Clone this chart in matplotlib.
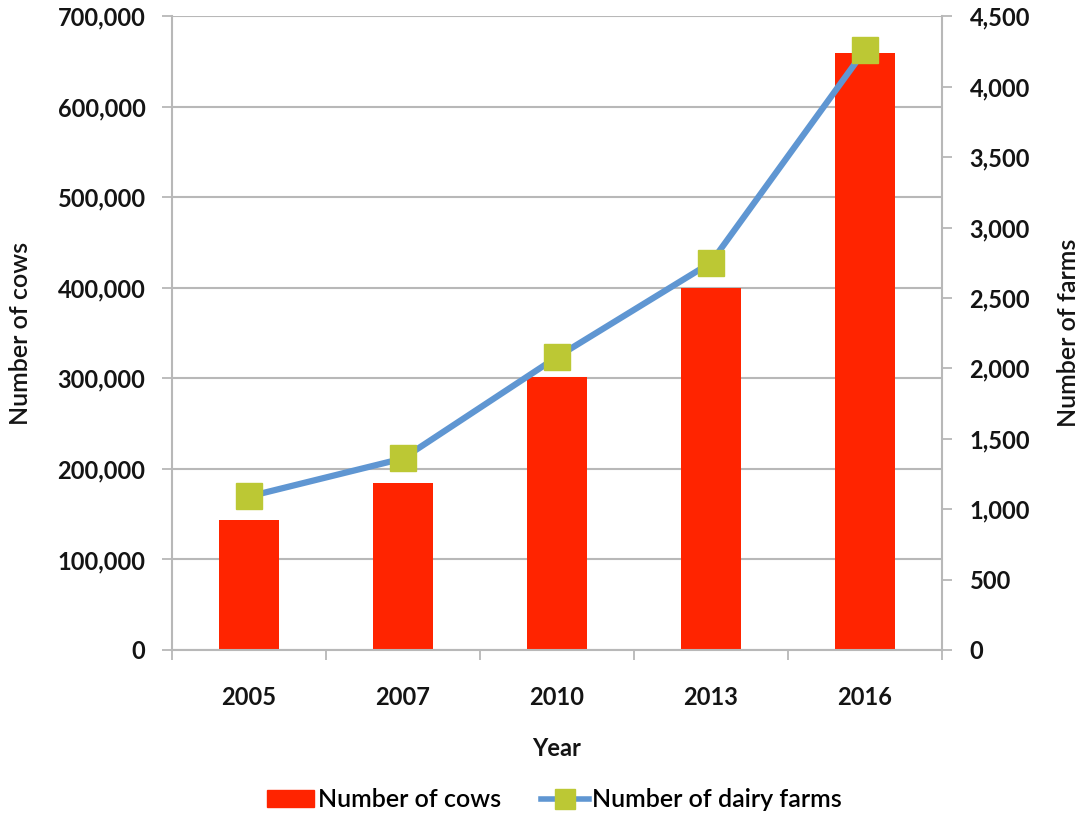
import numpy as np
import matplotlib
matplotlib.use("Agg")
import matplotlib.pyplot as plt
from matplotlib.ticker import FuncFormatter, MultipleLocator
from matplotlib.patches import Patch
from matplotlib.lines import Line2D

years = ["2005", "2007", "2010", "2013", "2016"]
cows = [144000, 185000, 302000, 400000, 659000]
farms = [1090, 1360, 2080, 2750, 4260]

RED = "#ff2400"
BLUE = "#5f96d2"
MARKER = "#bcc834"
GRID = "#b8b8b8"
TXT = "#141414"

plt.rcParams["font.family"] = ["Lato", "DejaVu Sans"]

fig = plt.figure(figsize=(10.85, 8.13), dpi=100)
ax = fig.add_axes([0.1585, 0.2005, 0.7095, 0.7795])
ax2 = ax.twinx()

x = np.arange(len(years))

ax.bar(x, cows, width=0.39, color=RED, zorder=2)
ax.set_ylim(0, 700000)
ax.set_xlim(-0.5, len(years) - 0.5)
ax.yaxis.set_major_locator(MultipleLocator(100000))
ax.yaxis.set_major_formatter(FuncFormatter(lambda v, p: f"{int(v):,}"))
ax.grid(axis="y", color=GRID, linewidth=1.5, zorder=0)
ax.set_axisbelow(True)

ax2.plot(x, farms, color=BLUE, linewidth=4.5, marker="s", markersize=19,
         markerfacecolor=MARKER, markeredgecolor=MARKER, zorder=3)
ax2.set_ylim(0, 4500)
ax2.yaxis.set_major_locator(MultipleLocator(500))
ax2.yaxis.set_major_formatter(FuncFormatter(lambda v, p: f"{int(v):,}"))

# category ticks: labels at centres, marks at the boundaries
ax.set_xticks(x)
ax.set_xticklabels(years)
ax.set_xticks(np.arange(-0.5, len(years)), minor=True)
ax.tick_params(axis="x", which="major", length=0, pad=26)
ax.tick_params(axis="x", which="minor", length=7, width=1.3, color=GRID, direction="out")
ax.tick_params(axis="y", length=7, width=1.3, color=GRID, pad=12)
ax2.tick_params(axis="y", length=7, width=1.3, color=GRID, pad=13)

for a in (ax, ax2):
    for s in a.spines.values():
        s.set_visible(False)
ax.spines["left"].set_visible(True)
ax.spines["bottom"].set_visible(True)
ax2.spines["right"].set_visible(True)
for s in (ax.spines["left"], ax.spines["bottom"], ax2.spines["right"]):
    s.set_color(GRID)
    s.set_linewidth(1.5)

for lab in ax.get_xticklabels() + ax.get_yticklabels() + ax2.get_yticklabels():
    lab.set_fontsize(17)
    lab.set_fontweight("bold")
    lab.set_color(TXT)

ax.set_xlabel("Year", fontsize=17, fontweight="bold", color=TXT)
ax.xaxis.set_label_coords(0.5, -0.137)
ax.set_ylabel("Number of cows", fontsize=18, fontweight="semibold", color=TXT)
ax.yaxis.set_label_coords(-0.182, 0.5)
ax2.set_ylabel("Number of farms", fontsize=18, fontweight="semibold",
               rotation=90, color=TXT)
ax2.yaxis.set_label_coords(1.150, 0.5)

handles = [Patch(facecolor=RED, edgecolor=RED),
           Line2D([0], [0], color=BLUE, linewidth=4, marker="s", markersize=15,
                  markerfacecolor=MARKER, markeredgecolor=MARKER)]
fig.legend(handles, ["Number of cows", "Number of dairy farms"],
           loc="center", bbox_to_anchor=(0.511, 0.016), ncol=2, frameon=False,
           prop={"size": 18, "weight": "semibold"}, handlelength=1.9,
           handletextpad=0.15, columnspacing=1.6)

fig.savefig("out.png", dpi=100)
